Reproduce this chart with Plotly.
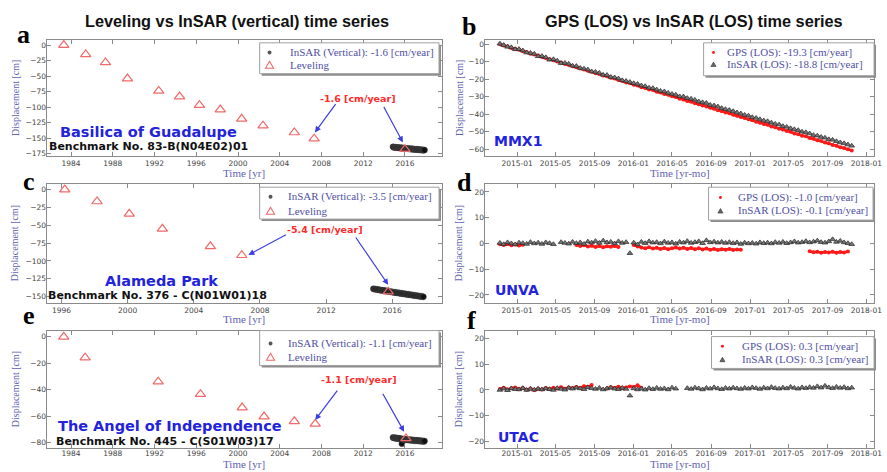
import pandas as pd
import plotly.graph_objects as go
from plotly.subplots import make_subplots

# ---------------- data ----------------
insar_dates = [
    "2014-11-08", "2014-11-20", "2014-12-02", "2014-12-14", "2014-12-26",
    "2015-01-07", "2015-01-19", "2015-01-31", "2015-02-12", "2015-02-24",
    "2015-03-08", "2015-03-20", "2015-04-01", "2015-04-13", "2015-04-25",
    "2015-05-07", "2015-05-19", "2015-05-31", "2015-06-12", "2015-06-24",
    "2015-07-06", "2015-07-18", "2015-07-30", "2015-08-11", "2015-08-23",
    "2015-09-04", "2015-09-16", "2015-09-28", "2015-10-10", "2015-10-22",
    "2015-11-03", "2015-11-15", "2015-11-27", "2015-12-09", "2015-12-21",
    "2016-01-02", "2016-01-14", "2016-01-26", "2016-02-07", "2016-02-19",
    "2016-03-02", "2016-03-14", "2016-03-26", "2016-04-07", "2016-04-19",
    "2016-05-01", "2016-05-13", "2016-05-25", "2016-06-06", "2016-06-18",
    "2016-06-30", "2016-07-12", "2016-07-24", "2016-08-05", "2016-08-17",
    "2016-08-29", "2016-09-10", "2016-09-22", "2016-10-04", "2016-10-16",
    "2016-10-28", "2016-11-09", "2016-11-21", "2016-12-03", "2016-12-15",
    "2016-12-27", "2017-01-08", "2017-01-20", "2017-02-01", "2017-02-13",
    "2017-02-25", "2017-03-09", "2017-03-21", "2017-04-02", "2017-04-14",
    "2017-04-26", "2017-05-08", "2017-05-20", "2017-06-01", "2017-06-13",
    "2017-06-25", "2017-07-07", "2017-07-19", "2017-07-31", "2017-08-12",
    "2017-08-24", "2017-09-05", "2017-09-17", "2017-09-29", "2017-10-11",
    "2017-10-23", "2017-11-04", "2017-11-16",
]

# Leveling (vertical) benchmarks
lev_a_year = [1983.3, 1985.4, 1987.3, 1989.4, 1992.4, 1994.4, 1996.3, 1998.3, 2000.35, 2002.4, 2005.4, 2007.3, 2016.0]
lev_a_val = [0, -15, -28, -54, -74, -83, -97, -104, -119, -130, -141, -151, -168]
lev_c_year = [1996.2, 1998.15, 2000.1, 2002.1, 2005.0, 2006.9, 2015.75]
lev_c_val = [0, -16.7, -34, -55, -79.5, -92, -143]
lev_e_year = [1983.3, 1985.35, 1992.35, 1996.4, 2000.4, 2002.5, 2005.4, 2007.4, 2016.1]
lev_e_val = [0, -15.8, -34, -43.5, -53.6, -60.4, -64, -66, -77]

# InSAR vertical (every second acquisition)
insar_a = [
    -164.2, -164.8, -165.1, -164.6, -165.3, -165.0, -165.6, -165.2, -165.9, -165.4,
    -166.0, -165.7, -166.3, -165.8, -166.1, -166.6, -166.2, -166.8, -166.4, -167.0,
    -166.7, -167.2, -166.9, -167.5, -167.1, -167.6, -167.3, -167.9, -167.4, -168.0,
    -167.7, -168.3, -167.9, -168.5, -168.1, -168.6, -168.3, -168.9, -168.5, -169.1,
    -168.7, -169.3, -168.9, -169.5, -169.1, -169.6, -169.4,
]
insar_c = [
    -139.0, -139.6, -139.3, -140.1, -140.4, -140.0, -140.9, -141.2, -140.8, -141.6,
    -141.9, -141.5, -142.3, -142.6, -142.2, -143.0, -143.4, -143.0, -143.8, -144.1,
    -143.7, -144.5, -144.8, -144.4, -145.2, -145.5, -145.1, -145.9, -146.2, -145.8,
    -146.6, -146.9, -146.5, -147.3, -147.6, -147.2, -148.0, -148.3, -147.9, -148.7,
    -149.0, -148.6, -149.4, -149.7, -149.3, -150.0, -150.2,
]
insar_e = [
    -76.2, -76.6, -76.4, -76.9, -76.5, -76.8, -77.1, -76.7, -77.2, -76.9,
    -77.3, -77.0, -77.5, -81.0, -77.4, -77.8, -77.5, -77.9, -77.6, -78.0,
    -77.7, -78.1, -77.8, -78.2, -77.9, -78.3, -78.0, -78.4, -78.1, -78.5,
    -78.2, -78.6, -78.3, -78.7, -78.4, -78.8, -78.5, -78.9, -78.6, -79.0,
    -78.7, -79.1, -78.8, -79.2, -78.9, -79.3, -79.0,
]

# GPS / InSAR LOS
gps_b = [
    0.0, -0.8, -1.2, -2.1, -2.6, -3.2, -4.0, -4.5, -5.4, -5.9,
    -6.5, -7.3, -7.8, -8.6, -9.1, -9.9, -10.4, -11.3, -11.8, -12.6,
    -13.1, -13.9, -14.4, -15.2, -15.7, -16.6, -17.0, -17.9, -18.3, -19.2,
    -19.6, -20.5, -21.0, -21.8, -22.3, -23.1, -23.6, -24.5, -25.0, -25.8,
    -26.2, -27.1, -27.6, -28.4, -28.9, -29.7, -30.2, -31.1, -31.6, -32.4,
    -32.8, -33.7, -34.2, -35.0, -35.5, -36.3, -36.8, -37.7, -38.2, -39.0,
    -39.4, -40.3, -40.8, -41.6, -42.1, -42.9, -43.4, -44.3, -44.8, -45.6,
    -46.0, -46.9, -47.4, -48.2, -48.7, -49.5, -50.0, -50.9, -51.4, -52.2,
    -52.6, -53.5, -54.0, -54.8, -55.3, -56.1, -56.6, -57.5, -58.0, -58.8,
    -59.3, -60.0, -60.6,
]
insar_b = [
    0.3, -0.5, -1.5, -1.8, -2.9, -2.8, -3.6, -4.8, -5.0, -5.5,
    -6.9, -6.8, -7.5, -8.9, -8.6, -9.4, -10.8, -10.7, -11.2, -12.3,
    -12.5, -13.6, -14.0, -14.5, -15.6, -15.8, -16.4, -17.5, -17.6, -18.7,
    -19.0, -19.6, -20.6, -21.0, -21.6, -22.3, -22.7, -23.6, -24.0, -24.9,
    -25.1, -25.9, -26.7, -27.0, -27.8, -28.4, -28.9, -29.8, -29.9, -30.8,
    -31.2, -31.8, -32.7, -33.2, -33.6, -34.7, -35.0, -35.6, -36.5, -37.1,
    -37.6, -38.3, -39.0, -39.6, -40.4, -40.8, -41.7, -42.1, -42.9, -43.6,
    -44.0, -44.8, -45.5, -45.9, -46.8, -47.2, -48.0, -48.6, -49.1, -50.0,
    -50.3, -51.0, -51.9, -52.2, -53.0, -53.4, -54.3, -54.6, -55.4, -56.1,
    -56.6, -57.3, -58.0,
]
gps_d = [
    -0.3, -0.6, -0.2, -0.7, -0.4, -0.8, -0.5, None, None, None,
    None, None, None, None, None, None, None, None, None, None,
    -0.6, -1.0, -0.7, -1.2, -0.9, -1.4, -1.0, -1.5, -1.1, -1.3,
    -1.0, -1.4, None, None, None, -0.6, -1.2, -1.6, -1.9, -1.5,
    -2.0, -1.7, -2.1, -1.8, -2.2, -1.9, -1.6, -2.0, -1.7, -2.1,
    -1.8, -2.2, -1.9, -2.3, -2.0, -2.4, -2.1, -2.5, -2.2, -2.4,
    -2.1, -2.5, -2.3, -2.4, None, None, None, None, None, None,
    None, None, None, None, None, None, None, None, None, None,
    None, -3.0, -3.4, -3.2, -3.6, -3.3, -3.5, -3.2, -3.6, -3.3,
    -3.5, -3.1, None,
]
insar_d = [
    0.2, -0.3, 0.4, 0.0, -0.4, 0.3, 0.1, -0.2, 0.5, 0.0,
    0.3, -0.2, 0.4, 0.1, -0.3, None, 0.5, 0.2, -0.1, 0.6,
    0.1, 0.4, -0.2, 0.7, 0.3, 0.9, 0.2, 1.1, 0.4, 0.6,
    0.0, 0.8, 0.2, 0.5, -3.8, 0.3, -0.4, 0.6, 0.1, 0.8,
    0.3, 0.5, 0.0, 0.7, 0.2, 0.4, -0.1, 0.6, 0.3, 0.9,
    0.2, 0.5, 0.8, 0.1, 1.2, 0.4, 0.7, 0.3, 0.6, 0.2,
    0.5, 0.1, 0.4, -0.2, 0.3, 0.0, 0.2, -0.1, 0.4, 0.1,
    0.3, 0.0, 0.5, 0.2, 0.6, 0.1, 0.4, 0.8, 0.3, 0.5,
    0.9, 0.4, 0.7, 1.1, 0.5, 0.3, 0.8, 1.6, 0.6, 1.0,
    0.4, 0.1, -0.3,
]
gps_f = [
    0.4, 0.9, 0.2, 0.7, 1.0, 0.3, 0.8, 0.1, 0.6, -0.1,
    0.5, 0.2, 0.8, 0.4, 0.9, 0.6, 1.1, 0.5, 1.0, 0.7,
    1.2, 0.8, 1.5, 1.3, 1.9, None, None, None, 0.6, 1.1,
    0.8, 1.3, 0.7, 1.0, 1.4, 1.2, 1.8, 0.9, None, None,
] + [None] * 53
insar_f = [
    0.0, 0.5, -0.1, 0.6, 0.3, 0.2, 0.7, 0.0, 0.4, 0.1,
    0.5, 0.2, 0.6, 0.3, 0.0, 0.7, 0.4, 0.1, 0.8, 0.5,
    0.9, 0.6, 0.3, 1.0, 0.7, 0.4, 0.8, 0.2, 0.6, 0.9,
    0.5, 0.3, 0.8, 0.4, -2.2, 0.6, 0.2, 0.5, 0.1, 0.7,
    0.3, 0.8, 0.4, 0.6, 0.2, 0.9, 0.5, None, None, 0.7,
    0.4, 0.9, 0.6, 0.2, 0.8, 0.5, 1.0, 0.6, 0.3, 0.8,
    0.5, 0.9, 0.6, 0.4, 0.8, 0.5, 1.0, 0.7, 0.4, 0.9,
    0.6, 1.1, 0.7, 0.5, 0.9, 0.6, 1.2, 0.8, 0.5, 1.0,
    0.7, 1.1, 0.8, 1.4, 0.9, 1.6, 1.0, 0.7, 1.2, 0.8,
    1.1, 0.6, 0.9,
]

left_titles = ["InSAR (Vertical): -1.6 [cm/year]", "InSAR (Vertical): -3.5 [cm/year]", "InSAR (Vertical): -1.1 [cm/year]"]
gps_names = ["GPS (LOS): -19.3 [cm/year]", "GPS (LOS): -1.0 [cm/year]", "GPS (LOS): 0.3 [cm/year]"]
insar_los_names = ["InSAR (LOS): -18.8 [cm/year]", "InSAR (LOS): -0.1 [cm/year]", "InSAR (LOS): 0.3 [cm/year]"]
stations = ["MMX1", "UNVA", "UTAC"]
sites = ["Basilica of Guadalupe", "Alameda Park", "The Angel of Independence"]
benchmarks = ["Benchmark No. 83-B(N04E02)01", "Benchmark No. 376 - C(N01W01)18", "Benchmark No. 445 - C(S01W03)17"]
rates = ["-1.6 [cm/year]", "-5.4 [cm/year]", "-1.1 [cm/year]"]


def dec_year(dates):
    out = []
    for s in dates:
        t = pd.Timestamp(s)
        n = 366 if t.is_leap_year else 365
        out.append(t.year + (t.dayofyear - 0.5) / n)
    return out


left_years = dec_year(insar_dates[::2])

# ---------------- figure ----------------
W, H = 887, 472
fig = make_subplots(rows=3, cols=2)

AX_BLUE = "#6161b3"
LEG_BLUE = "#5050a4"
RED_LEV = "#f06a6a"
GPS_RED = "#ff1a1a"

lev_years = [lev_a_year, lev_c_year, lev_e_year]
lev_vals = [lev_a_val, lev_c_val, lev_e_val]
insar_v = [insar_a, insar_c, insar_e]
gps_l = [gps_b, gps_d, gps_f]
insar_l = [insar_b, insar_d, insar_f]

for r in range(3):
    fig.add_trace(go.Scatter(
        x=left_years, y=insar_v[r], mode="markers", name=left_titles[r], showlegend=False,
        marker=dict(symbol="circle", size=6, color="#111111", line=dict(color="#555555", width=0.5)),
    ), row=r + 1, col=1)
    fig.add_trace(go.Scatter(
        x=lev_years[r], y=lev_vals[r], mode="markers", name="Leveling", showlegend=False,
        marker=dict(symbol="triangle-up-open", size=9, color=RED_LEV, line=dict(width=1.2)),
    ), row=r + 1, col=1)
    fig.add_trace(go.Scatter(
        x=insar_dates, y=gps_l[r], mode="lines", showlegend=False, hoverinfo="skip",
        line=dict(color=GPS_RED, width=2.5), connectgaps=False,
    ), row=r + 1, col=2)
    fig.add_trace(go.Scatter(
        x=insar_dates, y=gps_l[r], mode="markers", name=gps_names[r], showlegend=False,
        marker=dict(symbol="circle", size=4, color=GPS_RED),
    ), row=r + 1, col=2)
    fig.add_trace(go.Scatter(
        x=insar_dates, y=insar_l[r], mode="markers", name=insar_los_names[r], showlegend=False,
        marker=dict(symbol="triangle-up", size=5, color="#777777", line=dict(color="#222222", width=0.7)),
    ), row=r + 1, col=2)


def px(x):
    return x / W


def py(y):
    return 1 - y / H


rows_px = [(40, 157), (185, 304), (332, 450)]
left_x = (47, 446)
right_x = (489, 882)

left_ranges_x = [[1981.65, 2019.55], [1995.1, 2019.0], [1981.65, 2019.55]]
left_ranges_y = [[-179.5, 8.5], [-158.5, 7.5], [-84.3, 4.7]]
left_dtick_y = [25, 25, 20]
left_tickvals_x = [list(range(1984, 2017, 4)), list(range(1996, 2017, 4)), list(range(1984, 2017, 4))]
right_ranges_y = [[-64, 2.5], [-23, 23], [-22.6, 23.1]]
right_dtick_y = [10, 10, 10]
xlab_standoff = [0, 0, -2]

tickfont = dict(family="DejaVu Sans", size=7.5, color="#444444")
common = dict(showline=True, linecolor="#8a8a8a", linewidth=1, mirror="ticks", ticks="inside",
              ticklen=4, tickcolor="#8a8a8a", showgrid=False, zeroline=False, tickfont=tickfont)

for r in range(3):
    y0, y1 = rows_px[r]
    il = 2 * r + 1
    ir = 2 * r + 2
    fig.layout["xaxis%s" % ("" if il == 1 else il)].update(
        domain=[px(left_x[0]), px(left_x[1])], range=left_ranges_x[r],
        tickmode="array", tickvals=left_tickvals_x[r], ticklabelstandoff=xlab_standoff[r], **common)
    fig.layout["yaxis%s" % ("" if il == 1 else il)].update(
        domain=[py(y1), py(y0)], range=left_ranges_y[r], dtick=left_dtick_y[r], tick0=0,
        ticklabelstandoff=-2, **common)
    fig.layout["xaxis%d" % ir].update(
        domain=[px(right_x[0]), px(right_x[1])], range=["2014-09-21", "2018-01-25"],
        type="date", dtick="M4", tick0="2015-01-01", tickformat="%Y-%m", ticklabelstandoff=xlab_standoff[r],
        ticklabeloverflow="allow", **common)
    fig.layout["yaxis%d" % ir].update(
        domain=[py(y1), py(y0)], range=right_ranges_y[r], dtick=right_dtick_y[r], tick0=0,
        ticklabelstandoff=-2, **common)

ann = []
shapes = []


def text_ann(x, y, text, font, xanchor="center", **kw):
    d = dict(x=px(x), y=py(y), xref="paper", yref="paper", showarrow=False, text=text,
             font=font, xanchor=xanchor, yanchor="middle")
    d.update(kw)
    ann.append(d)


# ---- hand-built legends (box + symbols + labels) ----
def legend_box(x0, y0, x1, y1):
    shapes.append(dict(type="rect", xref="paper", yref="paper", x0=px(x0 + 2), x1=px(x1 + 2),
                       y0=py(y1 + 2), y1=py(y0 + 2), fillcolor="#8c8c8c", line=dict(width=0)))
    shapes.append(dict(type="rect", xref="paper", yref="paper", x0=px(x0), x1=px(x1),
                       y0=py(y1), y1=py(y0), fillcolor="white", line=dict(color="#a0a0a0", width=1)))


def sym_circle(x, y, r, color):
    shapes.append(dict(type="circle", xref="paper", yref="paper", x0=px(x - r), x1=px(x + r),
                       y0=py(y + r), y1=py(y - r), fillcolor=color, line=dict(width=0)))


def sym_tri(x, y, h, fill, edge, width):
    p = "M %f %f L %f %f L %f %f Z" % (px(x - h * 0.58), py(y + h / 2), px(x + h * 0.58), py(y + h / 2),
                                       px(x), py(y - h / 2))
    shapes.append(dict(type="path", xref="paper", yref="paper", path=p, fillcolor=fill,
                       line=dict(color=edge, width=width)))


leg_font = dict(family="Liberation Serif", size=11, color=LEG_BLUE)
left_leg = [((262, 43, 443, 74), 272, 291, (52.7, 65.0)),
            ((262, 188, 443, 220), 273, 289, (197.7, 211.7)),
            ((262, 332, 443, 367), 273, 289, (345.0, 358.3))]
right_leg = [((710, 43, 882, 76), 720, 732, (52.7, 64.5)),
             ((715, 188, 881, 221), 727, 743, (198.3, 211.7)),
             ((718, 338, 882, 370), 729, 747, (347.7, 361.0))]
for r in range(3):
    box, sx, tx, (e1, e2) = left_leg[r]
    legend_box(*box)
    sym_circle(sx, e1, 2.0, "#555555")
    sym_tri(sx, e2, 7, "rgba(0,0,0,0)", RED_LEV, 1.1)
    text_ann(tx, e1, left_titles[r], leg_font, xanchor="left")
    text_ann(tx, e2, "Leveling", leg_font, xanchor="left")
    box, sx, tx, (e1, e2) = right_leg[r]
    legend_box(*box)
    sym_circle(sx, e1, 1.5, GPS_RED)
    sym_tri(sx, e2, 4.5, "#666666", "#333333", 0.6)
    text_ann(tx, e1, gps_names[r], leg_font, xanchor="left")
    text_ann(tx, e2, insar_los_names[r], leg_font, xanchor="left")

# titles
title_font = dict(family="Liberation Sans", size=16.3, color="#111111")
text_ann(239, 21, "<b>Leveling vs InSAR (vertical) time series</b>", title_font)
text_ann(700, 21, "<b>GPS (LOS) vs InSAR (LOS) time series</b>", title_font)
# panel letters
letters = [("a", 24, 35), ("b", 473, 27), ("c", 29, 182), ("d", 469, 183), ("e", 29, 317), ("f", 476, 322)]
for t, x, y in letters:
    text_ann(x, y, "<b>%s</b>" % t, dict(family="Liberation Serif", size=26, color="#000000"))
# axis titles
ax_font = dict(family="Liberation Serif", size=10, color=AX_BLUE)
for r in range(3):
    yc = (rows_px[r][0] + rows_px[r][1]) / 2
    text_ann(15, yc, "Displacement [cm]", ax_font, textangle=-90)
    text_ann(463, yc, "Displacement [cm]", ax_font, textangle=-90)
xt_y = [174, 320, 466]
for r in range(3):
    text_ann(246, xt_y[r], "Time [yr]", dict(family="Liberation Serif", size=11, color=AX_BLUE))
    text_ann(686, xt_y[r], "Time [yr-mo]", dict(family="Liberation Serif", size=11, color=AX_BLUE))
# site names
site_pos = [(150, 133), (163, 282), (172, 428)]
bm_pos = [(150, 147), (159, 297), (166, 443)]
st_pos = [(523, 142), (522, 291), (523, 439)]
for r in range(3):
    text_ann(site_pos[r][0], site_pos[r][1], "<b>%s</b>" % sites[r],
             dict(family="DejaVu Sans", size=14.5, color="#2323dd"))
    text_ann(bm_pos[r][0], bm_pos[r][1], "<b>%s</b>" % benchmarks[r],
             dict(family="DejaVu Sans", size=11, color="#111111"))
    text_ann(st_pos[r][0], st_pos[r][1], "<b>%s</b>" % stations[r],
             dict(family="DejaVu Sans", size=14, color="#2323dd"))

# rate labels and arrows (data coordinates)
rate_pos = [(2011.5, -86.8), (2011.94, -55.3), (2011.6, -32.3)]
arrows = [
    [((2009.46, -92.7), (2007.37, -140.9)), ((2013.9, -97.6), (2015.8, -157.0))],
    [((2009.66, -62.2), (2007.3, -91.5)), ((2013.73, -65.0), (2015.75, -133.4))],
    [((2009.62, -39.7), (2007.4, -63.0)), ((2013.8, -42.0), (2015.92, -71.9))],
]
for r in range(3):
    xr = "x" if r == 0 else "x%d" % (2 * r + 1)
    yr = "y" if r == 0 else "y%d" % (2 * r + 1)
    ann.append(dict(x=rate_pos[r][0], y=rate_pos[r][1], xref=xr, yref=yr, showarrow=False,
                    xanchor="center", yanchor="middle",
                    text="<b>%s</b>" % rates[r], font=dict(family="DejaVu Sans", size=9.5, color="#ff2a2a")))
    for tail, head in arrows[r]:
        ann.append(dict(x=head[0], y=head[1], ax=tail[0], ay=tail[1], xref=xr, yref=yr,
                        axref=xr, ayref=yr, text="", showarrow=True, arrowhead=2, arrowsize=1,
                        arrowwidth=1.2, arrowcolor="#3c3ce6", standoff=0))

fig.update_layout(annotations=ann, shapes=shapes, width=W, height=H, margin=dict(l=0, r=0, t=0, b=0),
                  paper_bgcolor="white", plot_bgcolor="white", showlegend=False)

fig.write_html("out.html", config={"displayModeBar": False},
               post_script="document.body.style.margin='0px';")
